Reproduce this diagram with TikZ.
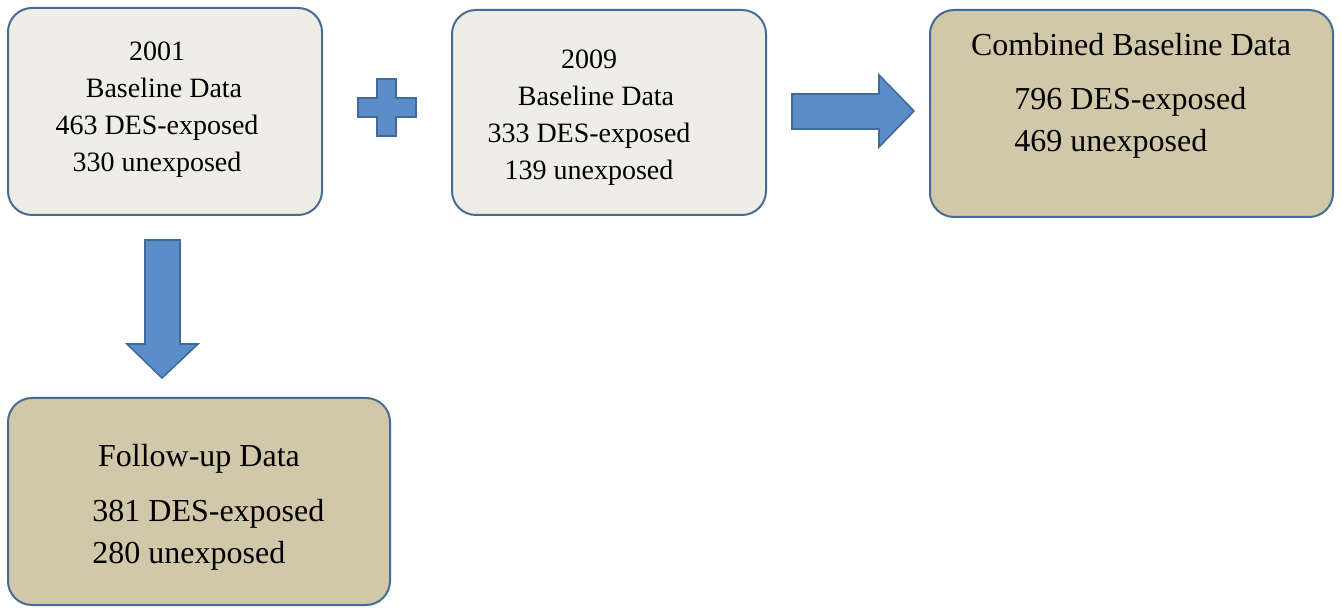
\documentclass[tikz,border=0pt]{standalone}
\usepackage{fontspec}
\setmainfont{Liberation Serif}
\definecolor{boxborder}{HTML}{4A6A96}
\definecolor{lightfill}{HTML}{EFEEE6}
\definecolor{darkfill}{HTML}{D0C8A9}
\definecolor{arrowfill}{HTML}{5B8EC8}
\definecolor{arrowline}{HTML}{3F6A9A}
\begin{document}
\begin{tikzpicture}[x=0.5pt,y=-0.5pt,
  databox/.style={draw=boxborder,line width=1pt,rounded corners=12pt,inner sep=0pt},
  lightbox/.style={databox,fill=lightfill},
  darkbox/.style={databox,fill=darkfill},
  smalltext/.style={font=\fontsize{14}{18.5}\selectfont,align=center,inner sep=0pt},
  bigtext/.style={font=\fontsize{16}{21}\selectfont,inner sep=0pt},
  blockarrow/.style={draw=arrowline,line width=0.8pt,fill=arrowfill,line join=miter}]
\useasboundingbox (0,0) rectangle (1342,608);
% boxes
\node[lightbox,minimum width=157pt,minimum height=103.5pt] (b1) at (165,111.5) {};
\node[lightbox,minimum width=157pt,minimum height=102.5pt] (b2) at (609,112.5) {};
\node[darkbox,minimum width=201.5pt,minimum height=103.5pt] (b3) at (1131.5,113.5) {};
\node[darkbox,minimum width=191pt,minimum height=103.5pt] (b4) at (199,501.5) {};
% texts
\node[smalltext] (t1) at (157,110) {2001\\\ \ Baseline Data\\463 DES-exposed\\330 unexposed};
\node[smalltext] (t2) at (589,118) {2009\hspace{2em}\\\ \ Baseline Data\\333 DES-exposed\\139 unexposed};
\node[bigtext] (t3) at (1131,45) {Combined Baseline Data};
\node[bigtext,anchor=west] (t3a) at (1014,102) {796 DES-exposed};
\node[bigtext,anchor=west] (t3b) at (1014,144) {469 unexposed};
\node[bigtext] (t4) at (199,459) {Follow-up Data};
\node[bigtext,anchor=west] (t4a) at (92,514) {381 DES-exposed};
\node[bigtext,anchor=west] (t4b) at (92,556) {280 unexposed};
% plus sign
\draw[blockarrow] (377,79) -- (396,79) -- (396,98) -- (416,98) -- (416,117) -- (396,117)
  -- (396,136) -- (377,136) -- (377,117) -- (358,117) -- (358,98) -- (377,98) -- cycle;
% right arrow
\draw[blockarrow] (792,94) -- (879,94) -- (879,75) -- (914,111) -- (879,147) -- (879,129) -- (792,129) -- cycle;
% down arrow
\draw[blockarrow] (145,240) -- (180,240) -- (180,344) -- (198,344) -- (162,378) -- (127,344) -- (145,344) -- cycle;
\end{tikzpicture}
\end{document}
